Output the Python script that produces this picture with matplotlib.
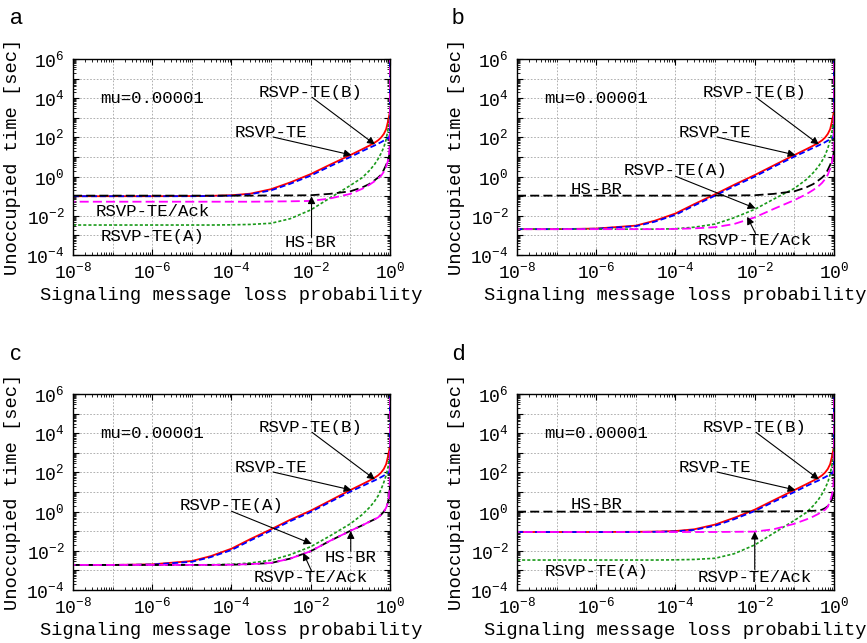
import numpy as np
import matplotlib
matplotlib.use("Agg")
import matplotlib.pyplot as plt
from matplotlib.ticker import FixedLocator, FuncFormatter, LogLocator, NullFormatter

plt.rcParams["font.family"] = ["Liberation Mono", "DejaVu Sans Mono"]
plt.rcParams["lines.scale_dashes"] = False

# loss probability (shared x for every curve)
p_loss = [1e-8, 1e-7, 1e-6, 1e-5, 3e-5, 1e-4, 3e-4, 1e-3, 3e-3, 1e-2, 3e-2, 0.1,
          0.2, 0.3, 0.4, 0.5, 0.6, 0.7, 0.8, 0.9, 0.95, 0.98, 0.995, 0.9999]

# log10 of unoccupied time [sec]
# panel a
a_rsvp = [-1.0, -1.0, -1.0, -0.99, -0.98, -0.95, -0.87, -0.64, -0.3, 0.13, 0.6, 1.1,
          1.4, 1.58, 1.72, 1.85, 2.0, 2.18, 2.42, 2.85, 3.1, 3.25, 3.32, 3.35]
a_rsvp_b = [-1.0, -1.0, -1.0, -1.0, -0.99, -0.97, -0.9, -0.7, -0.37, 0.05, 0.52, 1.0,
            1.3, 1.47, 1.58, 1.68, 1.76, 1.84, 1.9, 1.97, 2.02, 2.1, 2.5, 7.0]
a_rsvp_a = [-2.47, -2.47, -2.47, -2.47, -2.47, -2.46, -2.44, -2.38, -2.15, -1.7, -1.1, -0.45,
            -0.05, 0.3, 0.6, 0.9, 1.2, 1.5, 1.9, 2.45, 2.75, 2.95, 3.1, 3.2]
a_hsbr = [-0.97, -0.97, -0.97, -0.97, -0.97, -0.97, -0.97, -0.96, -0.96, -0.95, -0.88, -0.75,
          -0.55, -0.38, -0.2, -0.05, 0.1, 0.35, 0.6, 0.85, 1.05, 1.2, 1.3, 1.4]
a_ack = [-1.28, -1.28, -1.28, -1.28, -1.28, -1.28, -1.28, -1.27, -1.26, -1.24, -1.12, -0.88,
         -0.62, -0.42, -0.25, -0.1, 0.05, 0.25, 0.5, 0.85, 1.2, 1.6, 2.3, 7.0]

# panel b
b_rsvp = [-2.68, -2.68, -2.65, -2.5, -2.25, -1.88, -1.4, -0.9, -0.42, 0.08, 0.57, 1.1,
          1.4, 1.58, 1.72, 1.85, 2.0, 2.18, 2.42, 2.85, 3.1, 3.25, 3.32, 3.35]
b_rsvp_b = [-2.68, -2.68, -2.66, -2.53, -2.3, -1.95, -1.47, -0.97, -0.49, 0.0, 0.5, 1.02,
            1.3, 1.47, 1.58, 1.68, 1.76, 1.84, 1.9, 1.97, 2.02, 2.1, 2.5, 7.0]
b_rsvp_a = [-2.68, -2.68, -2.68, -2.68, -2.68, -2.66, -2.58, -2.42, -2.1, -1.67, -1.15, -0.6,
            -0.15, 0.2, 0.5, 0.8, 1.1, 1.45, 1.85, 2.35, 2.7, 2.92, 3.05, 3.2]
b_hsbr = [-0.97, -0.97, -0.97, -0.97, -0.97, -0.97, -0.97, -0.96, -0.96, -0.95, -0.88, -0.75,
          -0.55, -0.38, -0.2, -0.05, 0.1, 0.35, 0.6, 0.85, 1.05, 1.2, 1.3, 1.4]
b_ack = [-2.68, -2.68, -2.68, -2.68, -2.68, -2.67, -2.64, -2.58, -2.42, -2.08, -1.65, -1.2,
         -0.9, -0.68, -0.5, -0.32, -0.12, 0.1, 0.4, 0.75, 1.1, 1.5, 2.2, 7.0]

# panel c
c_rsvp = [-2.72, -2.72, -2.69, -2.52, -2.27, -1.89, -1.4, -0.9, -0.42, 0.05, 0.55, 1.1,
          1.4, 1.58, 1.72, 1.85, 2.0, 2.18, 2.42, 2.85, 3.1, 3.25, 3.32, 3.35]
c_rsvp_b = [-2.72, -2.72, -2.7, -2.56, -2.32, -1.96, -1.47, -0.97, -0.49, -0.02, 0.48, 1.02,
            1.3, 1.47, 1.58, 1.68, 1.76, 1.84, 1.9, 1.97, 2.02, 2.1, 2.5, 7.0]
c_rsvp_a = [-2.72, -2.72, -2.72, -2.72, -2.71, -2.69, -2.62, -2.48, -2.2, -1.79, -1.25, -0.62,
            -0.15, 0.2, 0.5, 0.8, 1.15, 1.5, 1.85, 2.3, 2.65, 2.9, 3.05, 3.2]
c_hsbr = [-2.72, -2.72, -2.72, -2.72, -2.72, -2.71, -2.68, -2.62, -2.4, -2.02, -1.5, -0.98,
          -0.7, -0.52, -0.4, -0.3, -0.15, 0.0, 0.2, 0.5, 0.8, 1.05, 1.25, 1.35]
c_ack = [-2.72, -2.72, -2.72, -2.72, -2.72, -2.71, -2.68, -2.62, -2.4, -2.02, -1.5, -0.98,
         -0.7, -0.52, -0.4, -0.3, -0.15, 0.0, 0.2, 0.5, 0.85, 1.3, 2.3, 7.0]

# panel d
d_rsvp = [-1.04, -1.04, -1.04, -1.03, -1.02, -0.99, -0.9, -0.66, -0.32, 0.1, 0.58, 1.1,
          1.4, 1.58, 1.72, 1.85, 2.0, 2.18, 2.42, 2.85, 3.1, 3.25, 3.32, 3.35]
d_rsvp_b = [-1.04, -1.04, -1.04, -1.04, -1.03, -1.01, -0.93, -0.72, -0.39, 0.03, 0.5, 1.0,
            1.3, 1.47, 1.58, 1.68, 1.76, 1.84, 1.9, 1.97, 2.02, 2.1, 2.5, 7.0]
d_rsvp_a = [-2.47, -2.47, -2.47, -2.47, -2.47, -2.46, -2.44, -2.38, -2.15, -1.7, -1.1, -0.45,
            -0.05, 0.3, 0.6, 0.9, 1.2, 1.5, 1.9, 2.45, 2.75, 2.95, 3.1, 3.2]
d_hsbr = [0.0, 0.0, 0.0, 0.0, 0.0, 0.0, 0.0, 0.0, 0.0, 0.01, 0.01, 0.02,
          0.03, 0.04, 0.06, 0.1, 0.18, 0.28, 0.42, 0.65, 0.85, 1.0, 1.1, 1.2]
d_ack = [-1.04, -1.04, -1.04, -1.04, -1.04, -1.04, -1.04, -1.04, -1.03, -1.02, -0.9, -0.62,
         -0.4, -0.25, -0.12, 0.0, 0.1, 0.25, 0.55, 0.9, 1.2, 1.6, 2.3, 7.0]

panels = {
    "a": (a_rsvp, a_rsvp_b, a_rsvp_a, a_hsbr, a_ack),
    "b": (b_rsvp, b_rsvp_b, b_rsvp_a, b_hsbr, b_ack),
    "c": (c_rsvp, c_rsvp_b, c_rsvp_a, c_hsbr, c_ack),
    "d": (d_rsvp, d_rsvp_b, d_rsvp_a, d_hsbr, d_ack),
}

styles = [
    dict(color="#ff0000", lw=1.3, ls="-"),
    dict(color="#0000ff", lw=1.3, ls=(0, (4.3, 2.2))),
    dict(color="#1a9a1a", lw=1.2, ls=(0, (2.2, 1.5))),
    dict(color="#000000", lw=1.3, ls=(0, (6.5, 3.0))),
    dict(color="#ff00ff", lw=1.3, ls=(4.7, (6.5, 3.0))),
]

# text labels (text, x, y, arrow tip, arrow start) in log10 data units
common = [
    ("RSVP-TE(B)", -2.0, 4.3, (-0.38, 1.64), (-1.97, 4.05)),
    ("RSVP-TE", -3.0, 2.26, (-0.97, 1.1), (-2.95, 2.02)),
]
notes = {
    "a": [("RSVP-TE/Ack", -6.0, -1.79, None, None),
          ("RSVP-TE(A)", -6.0, -3.07, None, None),
          ("HS-BR", -2.0, -3.35, (-1.98, -1.0), (-1.98, -3.1))],
    "b": [("RSVP-TE(A)", -4.0, 0.29, (-1.98, -1.62), (-4.0, 0.02)),
          ("HS-BR", -6.0, -0.65, None, None),
          ("RSVP-TE/Ack", -2.0, -3.27, (-2.19, -2.05), (-1.98, -2.9))],
    "c": [("RSVP-TE(A)", -4.0, 0.29, (-1.98, -1.64), (-4.0, 0.02)),
          ("HS-BR", -1.0, -2.32, (-0.99, -0.99), (-0.99, -2.02)),
          ("RSVP-TE/Ack", -2.0, -3.34, (-2.19, -2.1), (-1.98, -3.03))],
    "d": [("HS-BR", -6.0, 0.37, None, None),
          ("RSVP-TE(A)", -6.0, -3.03, None, None),
          ("RSVP-TE/Ack", -2.0, -3.34, (-2.0, -1.02), (-2.0, -2.95))],
}

fig = plt.figure(figsize=(8.67, 6.43), dpi=100)
pos = {"a": (0.0842, 0.6034), "b": (0.5963, 0.6034),
       "c": (0.0842, 0.0824), "d": (0.5963, 0.0824)}
letter_pos = {"a": (0.0115, 0.971), "b": (0.521, 0.971),
              "c": (0.0115, 0.449), "d": (0.521, 0.449)}


def fmt(v, pos_):
    k = int(round(np.log10(v)))
    return r"$\mathregular{10^{%d}}$" % k


def fmt_y(v, pos_):
    k = int(round(np.log10(v)))
    if k % 2:
        return ""
    return r"$\mathregular{10^{%d}}$" % k


for name, curves in panels.items():
    ax = fig.add_axes([pos[name][0], pos[name][1], 0.3656, 0.3048])
    for vals, st in zip(curves, styles):
        ax.plot(p_loss, np.power(10.0, vals), color=st["color"], lw=st["lw"],
                linestyle=st["ls"], solid_capstyle="butt")
    ax.set_xscale("log")
    ax.set_yscale("log")
    ax.set_xlim(1e-8, 1)
    ax.set_ylim(1e-4, 1e6)

    ax.xaxis.set_major_locator(FixedLocator([10.0 ** k for k in range(-8, 1, 2)]))
    ax.xaxis.set_major_formatter(FuncFormatter(fmt))
    ax.xaxis.set_minor_locator(LogLocator(base=10, subs=np.arange(1, 10), numticks=40))
    ax.xaxis.set_minor_formatter(NullFormatter())
    ax.yaxis.set_major_locator(FixedLocator([10.0 ** k for k in range(-4, 7)]))
    ax.yaxis.set_major_formatter(FuncFormatter(fmt_y))
    ax.yaxis.set_minor_locator(LogLocator(base=10, subs=np.arange(2, 10), numticks=40))
    ax.yaxis.set_minor_formatter(NullFormatter())

    ax.tick_params(which="both", direction="in", top=True, right=True, labelsize=13)
    ax.tick_params(which="major", length=4, width=0.8)
    ax.tick_params(which="minor", length=2, width=0.6)
    ax.tick_params(axis="y", which="major", pad=6)
    ax.tick_params(axis="x", which="major", pad=5)

    # grid on every decade, both axes
    for k in range(-8, 1):
        ax.axvline(10.0 ** k, color="#b0b0b0", lw=0.7, ls=(0, (1.2, 1.2)), zorder=0)
    for k in range(-4, 7):
        ax.axhline(10.0 ** k, color="#b0b0b0", lw=0.7, ls=(0, (1.2, 1.2)), zorder=0)
    for s in ax.spines.values():
        s.set_linewidth(1.0)

    ax.set_xlabel("Signaling message loss probability", fontsize=13.5, labelpad=3)
    ax.set_ylabel("Unoccupied time [sec]", fontsize=13.5, labelpad=4)

    ax.text(10.0 ** -7.32, 1e4, "mu=0.00001", fontsize=12.5, ha="left", va="center")
    for txt, tx, ty, tip, start in common + notes[name]:
        ax.text(10.0 ** tx, 10.0 ** ty, txt, fontsize=12.5, ha="center", va="center",
                zorder=5)
        if tip is not None:
            ax.annotate("", xy=(10.0 ** tip[0], 10.0 ** tip[1]),
                        xytext=(10.0 ** start[0], 10.0 ** start[1]),
                        arrowprops=dict(arrowstyle="-|>", color="k", lw=0.8,
                                        mutation_scale=11, shrinkA=0, shrinkB=0),
                        zorder=6)

    fig.text(letter_pos[name][0], letter_pos[name][1], name, fontsize=16,
             family=["Liberation Sans", "DejaVu Sans"], ha="left", va="center")

fig.savefig("out.png", dpi=100)
